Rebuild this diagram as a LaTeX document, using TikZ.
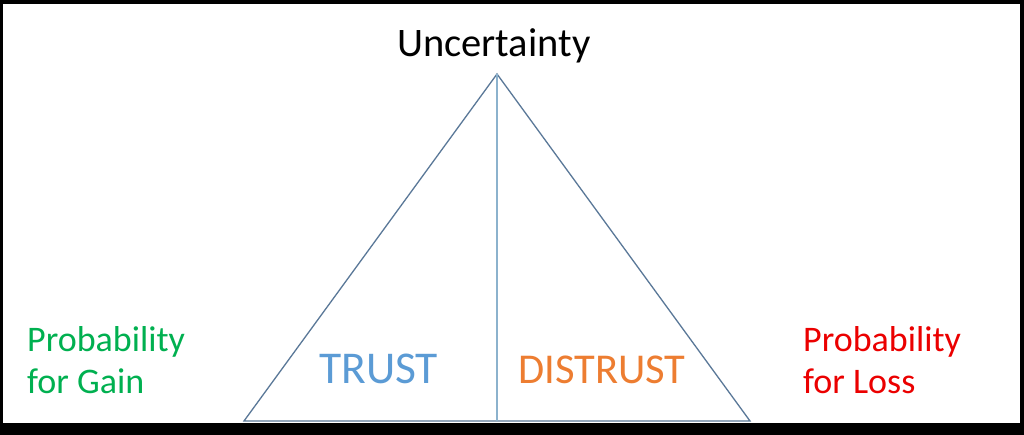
\documentclass[tikz,border=0pt]{standalone}
\usepackage{fontspec}
\setmainfont{Carlito}
\definecolor{edgeblue}{RGB}{90,120,152}
\definecolor{midblue}{RGB}{140,178,205}
\definecolor{trustblue}{RGB}{91,155,213}
\definecolor{distrustorange}{RGB}{237,125,49}
\definecolor{gaingreen}{RGB}{0,176,80}
\definecolor{lossred}{RGB}{235,0,0}
\begin{document}
\begin{tikzpicture}[x=1pt,y=-1pt,
  lbl/.style={inner sep=0pt,anchor=base west,align=left},
  edge/.style={draw=edgeblue,line width=1.3pt,line join=miter},
  midline/.style={draw=midblue,line width=1.1pt}]
\useasboundingbox (0,0) rectangle (1024,435);
\fill[black] (0,0) rectangle (1024,435);
\fill[white] (3,4) rectangle (1020,423);
\coordinate (apex) at (497,74);
\coordinate (bl) at (244,421);
\coordinate (br) at (750,421);
\coordinate (bm) at (497,421);
\draw[edge] (apex) -- (bl) -- (br) -- cycle;
\draw[midline] (apex) -- (bm);
\node[lbl,font=\fontsize{40.5}{40.5}\selectfont] (unc) at (397,57) {Uncertainty};
\node[lbl,font=\fontsize{45.5}{45.5}\selectfont,text=trustblue] (trust) at (319,383) {TRUST};
\node[lbl,font=\fontsize{42.5}{42.5}\selectfont,text=distrustorange] (distrust) at (518,383) {DISTRUST};
\node[lbl,font=\fontsize{36}{42}\selectfont,text=gaingreen] (gain) at (27,393) {Probability\\for Gain};
\node[lbl,font=\fontsize{36}{42}\selectfont,text=lossred] (loss) at (803,393) {Probability\\for Loss};
\end{tikzpicture}
\end{document}
